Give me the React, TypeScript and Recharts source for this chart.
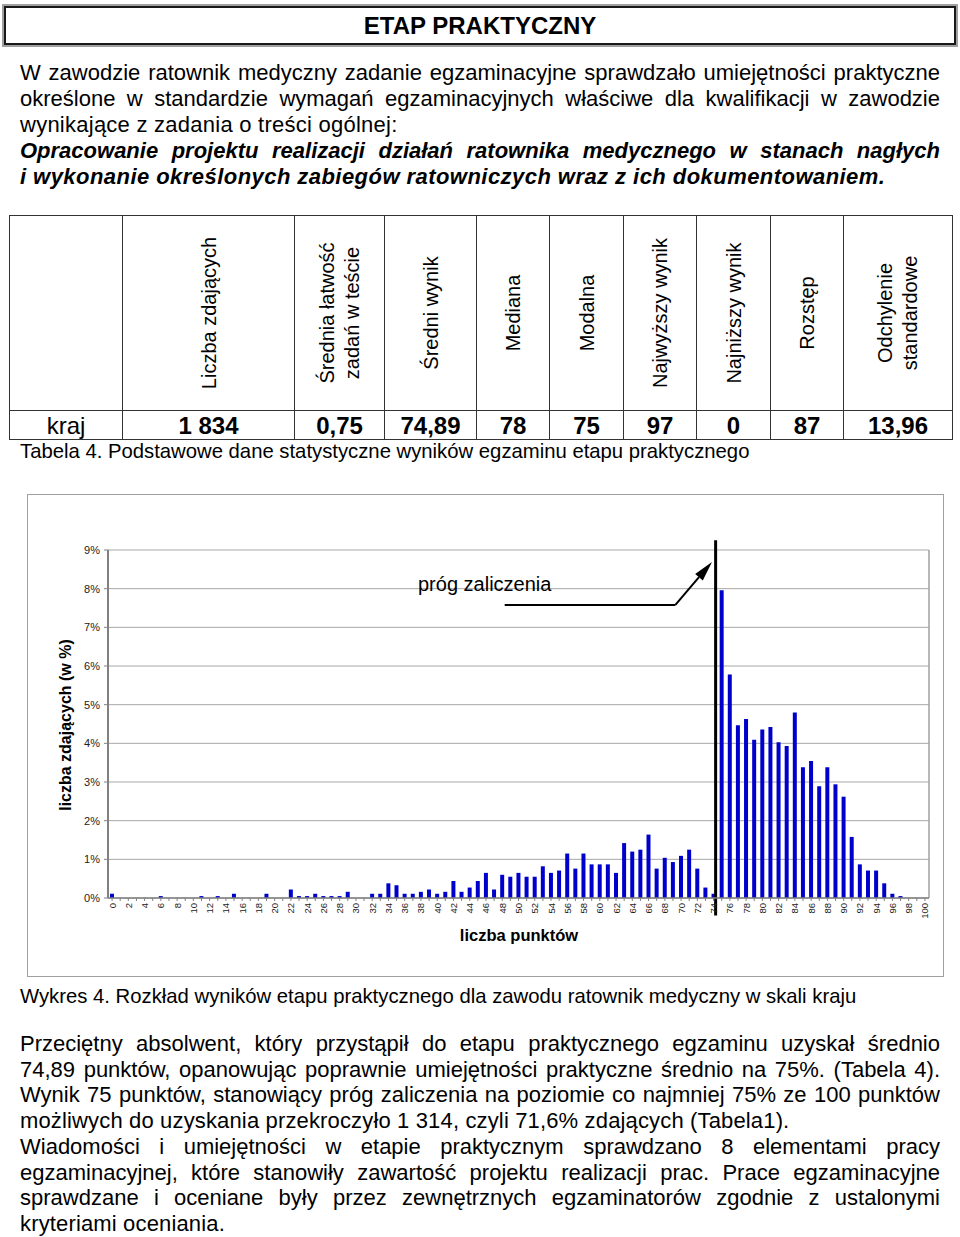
import React from 'react';
import { BarChart, Bar, XAxis, YAxis, CartesianGrid, ReferenceLine } from 'recharts';

const FONT = "'Liberation Sans', Arial, Helvetica, sans-serif";

// ---- chart data ----
const scores = [
  0, 1, 2, 3, 4, 5, 6, 7, 8, 9,
  10, 11, 12, 13, 14, 15, 16, 17, 18, 19,
  20, 21, 22, 23, 24, 25, 26, 27, 28, 29,
  30, 31, 32, 33, 34, 35, 36, 37, 38, 39,
  40, 41, 42, 43, 44, 45, 46, 47, 48, 49,
  50, 51, 52, 53, 54, 55, 56, 57, 58, 59,
  60, 61, 62, 63, 64, 65, 66, 67, 68, 69,
  70, 71, 72, 73, 74, 75, 76, 77, 78, 79,
  80, 81, 82, 83, 84, 85, 86, 87, 88, 89,
  90, 91, 92, 93, 94, 95, 96, 97, 98, 99,
  100,
];

const percentValues = [
  0.11, 0, 0, 0, 0, 0, 0.05, 0, 0, 0,
  0, 0.05, 0, 0.05, 0, 0.11, 0, 0, 0, 0.11,
  0, 0, 0.22, 0.05, 0.05, 0.11, 0.05, 0.05, 0.05, 0.16,
  0, 0, 0.11, 0.11, 0.38, 0.33, 0.11, 0.11, 0.16, 0.22,
  0.11, 0.16, 0.44, 0.16, 0.27, 0.44, 0.65, 0.22, 0.6, 0.55,
  0.65, 0.55, 0.55, 0.82, 0.65, 0.71, 1.15, 0.76, 1.15, 0.87,
  0.87, 0.87, 0.65, 1.42, 1.2, 1.25, 1.64, 0.76, 1.04, 0.93,
  1.09, 1.25, 0.76, 0.27, 0.11, 7.96, 5.78, 4.47, 4.63, 4.09,
  4.36, 4.42, 4.03, 3.93, 4.8, 3.38, 3.54, 2.89, 3.38, 2.94,
  2.62, 1.58, 0.87, 0.71, 0.71, 0.38, 0.11, 0.05, 0, 0,
  0,
];

const xTickLabels = [
  0, 2, 4, 6, 8, 10, 12, 14, 16, 18, 20, 22, 24, 26, 28, 30, 32, 34, 36, 38, 40, 42, 44, 46, 48, 50,
  52, 54, 56, 58, 60, 62, 64, 66, 68, 70, 72, 74, 76, 78, 80, 82, 84, 86, 88, 90, 92, 94, 96, 98, 100,
];
const yTicks = [0, 1, 2, 3, 4, 5, 6, 7, 8, 9];

// annotation (threshold line and arrow), in data units
const thresholdX = 74.25;
const arrowStart = { x: 48.3, y: 7.58 };
const arrowCorner = { x: 69.3, y: 7.58 };
const arrowTip = { x: 73.8, y: 8.69 };

// ---- table data ----
const tableHeaders = [
  'Liczba zdających',
  'Średnia łatwość\nzadań w teście',
  'Średni wynik',
  'Mediana',
  'Modalna',
  'Najwyższy wynik',
  'Najniższy wynik',
  'Rozstęp',
  'Odchylenie\nstandardowe',
];
const tableRowLabel = 'kraj';
const tableValues = ['1 834', '0,75', '74,89', '78', '75', '97', '0', '87', '13,96'];
const tableColWidths = [113, 172, 90, 92, 73, 74, 73, 74, 73, 109];

// ---- text ----
const intro = [
  { t: 'W zawodzie ratownik medyczny zadanie egzaminacyjne sprawdzało umiejętności praktyczne', j: true, b: false, ls: 0 },
  { t: 'określone w standardzie wymagań egzaminacyjnych właściwe dla kwalifikacji w zawodzie', j: true, b: false, ls: 0 },
  { t: 'wynikające z zadania o treści ogólnej:', j: false, b: false, ls: 0.25 },
  { t: 'Opracowanie projektu realizacji działań ratownika medycznego w stanach nagłych', j: true, b: true, ls: 0 },
  { t: 'i wykonanie określonych zabiegów ratowniczych wraz z ich dokumentowaniem.', j: false, b: true, ls: 0.45 },
];
const outro = [
  { t: 'Przeciętny absolwent, który przystąpił do etapu praktycznego egzaminu uzyskał średnio', j: true, ls: 0 },
  { t: '74,89 punktów, opanowując poprawnie umiejętności praktyczne średnio na 75%. (Tabela 4).', j: true, ls: 0 },
  { t: 'Wynik 75 punktów, stanowiący próg zaliczenia na poziomie co najmniej 75% ze 100 punktów', j: true, ls: 0 },
  { t: 'możliwych do uzyskania przekroczyło 1 314, czyli 71,6% zdających (Tabela1).', j: false, ls: 0.15 },
  { t: 'Wiadomości i umiejętności w etapie praktycznym sprawdzano 8 elementami pracy', j: true, ls: 0 },
  { t: 'egzaminacyjnej, które stanowiły zawartość projektu realizacji prac. Prace egzaminacyjne', j: true, ls: 0 },
  { t: 'sprawdzane i oceniane były przez zewnętrznych egzaminatorów zgodnie z ustalonymi', j: true, ls: 0 },
  { t: 'kryteriami oceniania.', j: false, ls: 0.15 },
];

const chartData = scores.map((s, i) => ({ score: s, pct: percentValues[i] }));

const XTick = (props: any) => {
  const { x, y, payload } = props;
  if (!xTickLabels.includes(payload.value)) return <g />;
  return (
    <text
      x={x}
      y={y}
      transform={`rotate(-90 ${x} ${y})`}
      textAnchor="end"
      dominantBaseline="central"
      fontSize={9.5}
      fill="#222"
      fontFamily={FONT}
    >
      {payload.value}
    </text>
  );
};

const ArrowShape = (props: any) => {
  const { x1, y1, x2, y2 } = props;
  const dx = x2 - x1;
  const dy = y2 - y1;
  const len = Math.sqrt(dx * dx + dy * dy) || 1;
  const ux = dx / len;
  const uy = dy / len;
  const hl = 20;
  const hw = 5;
  const bx = x2 - ux * hl;
  const by = y2 - uy * hl;
  const px = -uy * hw;
  const py = ux * hw;
  return (
    <g>
      <line x1={x1} y1={y1} x2={bx} y2={by} stroke="#000" strokeWidth={2} />
      <polygon points={`${x2},${y2} ${bx + px},${by + py} ${bx - px},${by - py}`} fill="#000" />
    </g>
  );
};

function TextLine({ top, text, justify, bold, size, lh, ls }: any) {
  return (
    <div
      style={{
        position: 'absolute',
        left: 20,
        top,
        width: 920,
        fontSize: size,
        lineHeight: `${lh}px`,
        height: lh,
        letterSpacing: ls ? `${ls}px` : 'normal',
        textAlign: justify ? 'justify' : 'left',
        textAlignLast: justify ? 'justify' : 'left',
        fontWeight: bold ? 'bold' : 'normal',
        fontStyle: bold ? 'italic' : 'normal',
        whiteSpace: justify ? 'normal' : 'nowrap',
      }}
    >
      {text}
    </div>
  );
}

const cellBorder: React.CSSProperties = { border: '1.5px solid #333', padding: 0 };

export default function App() {
  return (
    <div
      style={{
        position: 'absolute',
        left: 0,
        top: 0,
        width: 960,
        height: 1237,
        background: '#fff',
        fontFamily: FONT,
        color: '#000',
        overflow: 'hidden',
      }}
    >
      {/* title */}
      <div
        style={{
          position: 'absolute',
          left: 4,
          top: 6,
          width: 952,
          height: 39,
          boxSizing: 'border-box',
          border: '2px solid #1a1a1a',
          boxShadow: '0 0 0 2px #a0a0a0',
          display: 'flex',
          alignItems: 'center',
          justifyContent: 'center',
          fontWeight: 'bold',
          fontSize: 24,
        }}
      >
        ETAP PRAKTYCZNY
      </div>

      {intro.map((l, i) => (
        <TextLine key={i} top={60 + i * 26} text={l.t} justify={l.j} bold={l.b} size={22} lh={26} ls={l.ls} />
      ))}

      {/* table */}
      <table
        style={{
          position: 'absolute',
          left: 9,
          top: 215,
          width: 943,
          borderCollapse: 'collapse',
          tableLayout: 'fixed',
          fontFamily: FONT,
        }}
      >
        <colgroup>
          {tableColWidths.map((w, i) => (
            <col key={i} style={{ width: w }} />
          ))}
        </colgroup>
        <tbody>
          <tr style={{ height: 195 }}>
            <td style={cellBorder}></td>
            {tableHeaders.map((h, i) => (
              <td key={i} style={{ ...cellBorder, position: 'relative' }}>
                <div
                  style={{
                    position: 'absolute',
                    left: '50%',
                    top: '50%',
                    transform: 'translate(-50%, -50%) rotate(-90deg)',
                    whiteSpace: 'pre',
                    textAlign: 'center',
                    fontSize: 20,
                    lineHeight: '25px',
                  }}
                >
                  {h}
                </div>
              </td>
            ))}
          </tr>
          <tr style={{ height: 29 }}>
            <td style={{ ...cellBorder, textAlign: 'center', fontSize: 24, lineHeight: '27px' }}>{tableRowLabel}</td>
            {tableValues.map((v, i) => (
              <td
                key={i}
                style={{ ...cellBorder, textAlign: 'center', fontSize: 24, lineHeight: '27px', fontWeight: 'bold' }}
              >
                {v}
              </td>
            ))}
          </tr>
        </tbody>
      </table>
      <div style={{ position: 'absolute', left: 20, top: 439, fontSize: 20.3, lineHeight: '24px', whiteSpace: 'nowrap' }}>
        Tabela 4. Podstawowe dane statystyczne wyników egzaminu etapu praktycznego
      </div>

      {/* chart frame */}
      <div
        style={{
          position: 'absolute',
          left: 27,
          top: 494,
          width: 917,
          height: 483,
          boxSizing: 'border-box',
          border: '1px solid #a0a0a0',
        }}
      />
      <div style={{ position: 'absolute', left: 27, top: 494 }}>
        <BarChart
          width={917}
          height={483}
          data={chartData}
          margin={{ top: 56, right: 15, bottom: 0, left: 0 }}
          barCategoryGap={0}
        >
          <CartesianGrid vertical={false} stroke="#a8a8a8" strokeWidth={1} />
          <XAxis
            dataKey="score"
            type="number"
            domain={[-0.5, 100.5]}
            ticks={scores}
            interval={0}
            height={79}
            tick={<XTick />}
            tickSize={3}
            tickMargin={2}
            stroke="#808080"
            axisLine={{ stroke: '#808080', strokeWidth: 1.5 }}
            tickLine={{ stroke: '#808080' }}
            allowDataOverflow
          />
          <YAxis
            type="number"
            domain={[0, 9]}
            ticks={yTicks}
            interval={0}
            width={81}
            tickFormatter={(v: number) => `${v}%`}
            tick={{ fontSize: 11, fill: '#222', fontFamily: FONT }}
            tickSize={4}
            tickMargin={4}
            axisLine={{ stroke: '#808080', strokeWidth: 2 }}
            tickLine={{ stroke: '#808080' }}
            allowDataOverflow
          />
          <ReferenceLine x={100.5} stroke="#a0a0a0" strokeWidth={1.5} />
          <Bar dataKey="pct" fill="#0000CC" barSize={4} isAnimationActive={false} />
          <ReferenceLine
            segment={[
              { x: thresholdX, y: 9.25 },
              { x: thresholdX, y: -0.45 },
            ]}
            stroke="#000"
            strokeWidth={3}
            ifOverflow="visible"
          />
          <ReferenceLine
            segment={[arrowStart, arrowCorner]}
            stroke="#000"
            strokeWidth={2}
            ifOverflow="visible"
          />
          <ReferenceLine segment={[arrowCorner, arrowTip]} ifOverflow="visible" shape={ArrowShape} />
        </BarChart>
      </div>
      <div
        style={{
          position: 'absolute',
          left: 418,
          top: 572,
          fontSize: 20,
          lineHeight: '24px',
          whiteSpace: 'nowrap',
        }}
      >
        próg zaliczenia
      </div>
      <div
        style={{
          position: 'absolute',
          left: 66,
          top: 725,
          transform: 'translate(-50%, -50%) rotate(-90deg)',
          fontSize: 16,
          fontWeight: 'bold',
          whiteSpace: 'nowrap',
          lineHeight: '20px',
        }}
      >
        liczba zdających (w %)
      </div>
      <div
        style={{
          position: 'absolute',
          left: 519,
          top: 935,
          transform: 'translate(-50%, -50%)',
          fontSize: 16.5,
          fontWeight: 'bold',
          whiteSpace: 'nowrap',
          lineHeight: '20px',
        }}
      >
        liczba punktów
      </div>

      <div style={{ position: 'absolute', left: 20, top: 984, fontSize: 20.3, lineHeight: '24px', whiteSpace: 'nowrap' }}>
        Wykres 4. Rozkład wyników etapu praktycznego dla zawodu ratownik medyczny w skali kraju
      </div>

      {outro.map((l, i) => (
        <TextLine key={i} top={1031 + i * 25.7} text={l.t} justify={l.j} bold={false} size={22} lh={26} ls={l.ls} />
      ))}
    </div>
  );
}
